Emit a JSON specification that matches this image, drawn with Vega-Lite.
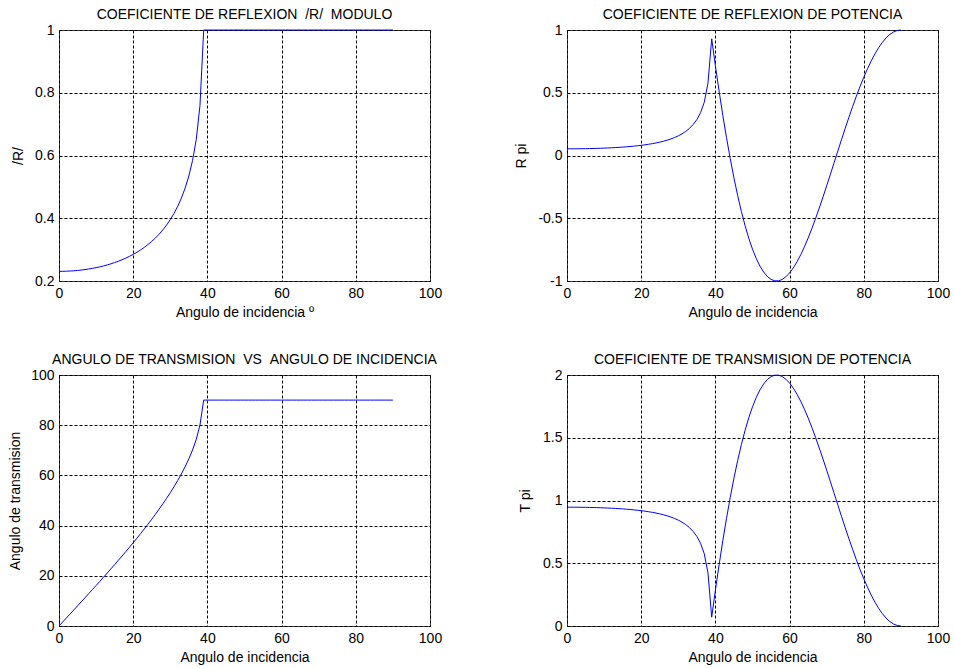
{
  "$schema": "https://vega.github.io/schema/vega-lite/v6.json",
  "background": "white",
  "padding": {"left": 7, "top": 7, "right": 0, "bottom": 0},
  "data": {"values": [
    {"a":0,"R":0.2308,"Rp":0.0533,"Tt":0,"Tp":0.9467},
    {"a":1,"R":0.2309,"Rp":0.0533,"Tt":1.60,"Tp":0.9467},
    {"a":2,"R":0.2312,"Rp":0.0535,"Tt":3.20,"Tp":0.9465},
    {"a":3,"R":0.2318,"Rp":0.0537,"Tt":4.80,"Tp":0.9463},
    {"a":4,"R":0.2326,"Rp":0.0541,"Tt":6.41,"Tp":0.9459},
    {"a":5,"R":0.2336,"Rp":0.0546,"Tt":8.02,"Tp":0.9454},
    {"a":6,"R":0.2349,"Rp":0.0552,"Tt":9.63,"Tp":0.9448},
    {"a":7,"R":0.2364,"Rp":0.0559,"Tt":11.24,"Tp":0.9441},
    {"a":8,"R":0.2382,"Rp":0.0567,"Tt":12.87,"Tp":0.9433},
    {"a":9,"R":0.2402,"Rp":0.0577,"Tt":14.49,"Tp":0.9423},
    {"a":10,"R":0.2425,"Rp":0.0588,"Tt":16.13,"Tp":0.9412},
    {"a":11,"R":0.2451,"Rp":0.0601,"Tt":17.78,"Tp":0.9399},
    {"a":12,"R":0.2480,"Rp":0.0615,"Tt":19.43,"Tp":0.9385},
    {"a":13,"R":0.2512,"Rp":0.0631,"Tt":21.10,"Tp":0.9369},
    {"a":14,"R":0.2548,"Rp":0.0649,"Tt":22.77,"Tp":0.9351},
    {"a":15,"R":0.2587,"Rp":0.0669,"Tt":24.46,"Tp":0.9331},
    {"a":16,"R":0.2630,"Rp":0.0692,"Tt":26.17,"Tp":0.9308},
    {"a":17,"R":0.2677,"Rp":0.0717,"Tt":27.89,"Tp":0.9283},
    {"a":18,"R":0.2729,"Rp":0.0745,"Tt":29.63,"Tp":0.9255},
    {"a":19,"R":0.2786,"Rp":0.0776,"Tt":31.39,"Tp":0.9224},
    {"a":20,"R":0.2848,"Rp":0.0811,"Tt":33.18,"Tp":0.9189},
    {"a":21,"R":0.2916,"Rp":0.0850,"Tt":34.99,"Tp":0.9150},
    {"a":22,"R":0.2991,"Rp":0.0894,"Tt":36.82,"Tp":0.9106},
    {"a":23,"R":0.3072,"Rp":0.0944,"Tt":38.69,"Tp":0.9056},
    {"a":24,"R":0.3163,"Rp":0.1000,"Tt":40.60,"Tp":0.9000},
    {"a":25,"R":0.3262,"Rp":0.1064,"Tt":42.55,"Tp":0.8936},
    {"a":26,"R":0.3372,"Rp":0.1137,"Tt":44.54,"Tp":0.8863},
    {"a":27,"R":0.3494,"Rp":0.1221,"Tt":46.58,"Tp":0.8779},
    {"a":28,"R":0.3631,"Rp":0.1318,"Tt":48.69,"Tp":0.8682},
    {"a":29,"R":0.3784,"Rp":0.1432,"Tt":50.87,"Tp":0.8568},
    {"a":30,"R":0.3957,"Rp":0.1565,"Tt":53.13,"Tp":0.8435},
    {"a":31,"R":0.4154,"Rp":0.1725,"Tt":55.49,"Tp":0.8275},
    {"a":32,"R":0.4381,"Rp":0.1919,"Tt":57.98,"Tp":0.8081},
    {"a":33,"R":0.4646,"Rp":0.2159,"Tt":60.62,"Tp":0.7841},
    {"a":34,"R":0.4962,"Rp":0.2462,"Tt":63.47,"Tp":0.7538},
    {"a":35,"R":0.5348,"Rp":0.2860,"Tt":66.60,"Tp":0.7140},
    {"a":36,"R":0.5840,"Rp":0.3411,"Tt":70.13,"Tp":0.6589},
    {"a":37,"R":0.6513,"Rp":0.4242,"Tt":74.35,"Tp":0.5758},
    {"a":38,"R":0.7596,"Rp":0.5770,"Tt":80.08,"Tp":0.4230},
    {"a":39,"R":1,"Rp":0.9295,"Tt":90,"Tp":0.0705},
    {"a":40,"R":1,"Rp":0.7149,"Tt":90,"Tp":0.2851},
    {"a":41,"R":1,"Rp":0.5118,"Tt":90,"Tp":0.4882},
    {"a":42,"R":1,"Rp":0.3205,"Tt":90,"Tp":0.6795},
    {"a":43,"R":1,"Rp":0.1416,"Tt":90,"Tp":0.8584},
    {"a":44,"R":1,"Rp":-0.0248,"Tt":90,"Tp":1.0248},
    {"a":45,"R":1,"Rp":-0.1782,"Tt":90,"Tp":1.1782},
    {"a":46,"R":1,"Rp":-0.3185,"Tt":90,"Tp":1.3185},
    {"a":47,"R":1,"Rp":-0.4455,"Tt":90,"Tp":1.4455},
    {"a":48,"R":1,"Rp":-0.5592,"Tt":90,"Tp":1.5592},
    {"a":49,"R":1,"Rp":-0.6595,"Tt":90,"Tp":1.6595},
    {"a":50,"R":1,"Rp":-0.7464,"Tt":90,"Tp":1.7464},
    {"a":51,"R":1,"Rp":-0.8202,"Tt":90,"Tp":1.8202},
    {"a":52,"R":1,"Rp":-0.8809,"Tt":90,"Tp":1.8809},
    {"a":53,"R":1,"Rp":-0.9283,"Tt":90,"Tp":1.9283},
    {"a":54,"R":1,"Rp":-0.9641,"Tt":90,"Tp":1.9641},
    {"a":55,"R":1,"Rp":-0.9873,"Tt":90,"Tp":1.9873},
    {"a":56,"R":1,"Rp":-0.9986,"Tt":90,"Tp":1.9986},
    {"a":57,"R":1,"Rp":-0.9986,"Tt":90,"Tp":1.9986},
    {"a":58,"R":1,"Rp":-0.9877,"Tt":90,"Tp":1.9877},
    {"a":59,"R":1,"Rp":-0.9665,"Tt":90,"Tp":1.9665},
    {"a":60,"R":1,"Rp":-0.9356,"Tt":90,"Tp":1.9356},
    {"a":61,"R":1,"Rp":-0.8955,"Tt":90,"Tp":1.8955},
    {"a":62,"R":1,"Rp":-0.8470,"Tt":90,"Tp":1.8470},
    {"a":63,"R":1,"Rp":-0.7906,"Tt":90,"Tp":1.7906},
    {"a":64,"R":1,"Rp":-0.7272,"Tt":90,"Tp":1.7272},
    {"a":65,"R":1,"Rp":-0.6575,"Tt":90,"Tp":1.6575},
    {"a":66,"R":1,"Rp":-0.5822,"Tt":90,"Tp":1.5822},
    {"a":67,"R":1,"Rp":-0.5021,"Tt":90,"Tp":1.5021},
    {"a":68,"R":1,"Rp":-0.4180,"Tt":90,"Tp":1.4180},
    {"a":69,"R":1,"Rp":-0.3307,"Tt":90,"Tp":1.3307},
    {"a":70,"R":1,"Rp":-0.2409,"Tt":90,"Tp":1.2409},
    {"a":71,"R":1,"Rp":-0.1495,"Tt":90,"Tp":1.1495},
    {"a":72,"R":1,"Rp":-0.0572,"Tt":90,"Tp":1.0572},
    {"a":73,"R":1,"Rp":0.0352,"Tt":90,"Tp":0.9648},
    {"a":74,"R":1,"Rp":0.1269,"Tt":90,"Tp":0.8731},
    {"a":75,"R":1,"Rp":0.2173,"Tt":90,"Tp":0.7827},
    {"a":76,"R":1,"Rp":0.3055,"Tt":90,"Tp":0.6945},
    {"a":77,"R":1,"Rp":0.3908,"Tt":90,"Tp":0.6092},
    {"a":78,"R":1,"Rp":0.4728,"Tt":90,"Tp":0.5272},
    {"a":79,"R":1,"Rp":0.5506,"Tt":90,"Tp":0.4494},
    {"a":80,"R":1,"Rp":0.6237,"Tt":90,"Tp":0.3763},
    {"a":81,"R":1,"Rp":0.6916,"Tt":90,"Tp":0.3084},
    {"a":82,"R":1,"Rp":0.7538,"Tt":90,"Tp":0.2462},
    {"a":83,"R":1,"Rp":0.8098,"Tt":90,"Tp":0.1902},
    {"a":84,"R":1,"Rp":0.8591,"Tt":90,"Tp":0.1409},
    {"a":85,"R":1,"Rp":0.9015,"Tt":90,"Tp":0.0985},
    {"a":86,"R":1,"Rp":0.9366,"Tt":90,"Tp":0.0634},
    {"a":87,"R":1,"Rp":0.9642,"Tt":90,"Tp":0.0358},
    {"a":88,"R":1,"Rp":0.9840,"Tt":90,"Tp":0.0160},
    {"a":89,"R":1,"Rp":0.9960,"Tt":90,"Tp":0.0040},
    {"a":90,"R":1,"Rp":1.0,"Tt":90,"Tp":0.0}
  ]},
  "columns": 2,
  "bounds": "flush",
  "spacing": {"row": 94, "column": 137},
  "concat": [
    {
      "width": 371, "height": 251,
      "title": {"text": "COEFICIENTE DE REFLEXION \u00a0/R/ \u00a0MODULO"},
      "mark": {"type": "line"},
      "encoding": {
        "x": {"field": "a", "type": "quantitative", "scale": {"domain": [0, 100], "nice": false},
              "axis": {"title": "Angulo de incidencia º", "values": [0, 20, 40, 60, 80, 100]}},
        "y": {"field": "R", "type": "quantitative", "scale": {"domain": [0.2, 1], "nice": false, "zero": false},
              "axis": {"title": "/R/", "values": [0.2, 0.4, 0.6, 0.8, 1], "titleX": -37, "titleY": 125.5}}
      }
    },
    {
      "width": 371, "height": 251,
      "title": {"text": "COEFICIENTE DE REFLEXION DE POTENCIA"},
      "mark": {"type": "line"},
      "encoding": {
        "x": {"field": "a", "type": "quantitative", "scale": {"domain": [0, 100], "nice": false},
              "axis": {"title": "Angulo de incidencia", "values": [0, 20, 40, 60, 80, 100]}},
        "y": {"field": "Rp", "type": "quantitative", "scale": {"domain": [-1, 1], "nice": false, "zero": false},
              "axis": {"title": "R pi", "values": [-1, -0.5, 0, 0.5, 1], "titleX": -42, "titleY": 125.5}}
      }
    },
    {
      "width": 371, "height": 251,
      "title": {"text": "ANGULO DE TRANSMISION \u00a0VS \u00a0ANGULO DE INCIDENCIA"},
      "mark": {"type": "line"},
      "encoding": {
        "x": {"field": "a", "type": "quantitative", "scale": {"domain": [0, 100], "nice": false},
              "axis": {"title": "Angulo de incidencia", "values": [0, 20, 40, 60, 80, 100]}},
        "y": {"field": "Tt", "type": "quantitative", "scale": {"domain": [0, 100], "nice": false},
              "axis": {"title": "Angulo de transmision", "values": [0, 20, 40, 60, 80, 100], "titleX": -40, "titleY": 125.5}}
      }
    },
    {
      "width": 371, "height": 251,
      "title": {"text": "COEFICIENTE DE TRANSMISION DE POTENCIA"},
      "mark": {"type": "line"},
      "encoding": {
        "x": {"field": "a", "type": "quantitative", "scale": {"domain": [0, 100], "nice": false},
              "axis": {"title": "Angulo de incidencia", "values": [0, 20, 40, 60, 80, 100]}},
        "y": {"field": "Tp", "type": "quantitative", "scale": {"domain": [0, 2], "nice": false},
              "axis": {"title": "T pi", "values": [0, 0.5, 1, 1.5, 2], "titleX": -38, "titleY": 125.5}}
      }
    }
  ],
  "config": {
    "font": "Liberation Sans",
    "view": {"stroke": "#404040", "strokeWidth": 1},
    "line": {"color": "#0000ff", "strokeWidth": 1},
    "axis": {
      "domain": false, "ticks": false, "tickSize": 0,
      "grid": true, "gridColor": "#000000", "gridDash": [3, 2], "gridOpacity": 1, "gridWidth": 1,
      "labelFont": "Liberation Sans", "labelFontSize": 14, "labelColor": "#000000",
      "labelFlush": false, "labelOverlap": false, "labelPadding": 5,
      "labelExpr": "'' + datum.value",
      "titleFont": "Liberation Sans", "titleFontSize": 14, "titleFontWeight": "normal", "titleColor": "#000000",
      "titleBaseline": "alphabetic"
    },
    "axisX": {"titleY": 35},
    "title": {
      "font": "Liberation Sans", "fontSize": 14, "fontWeight": "normal", "color": "#000000",
      "anchor": "middle", "frame": "group", "baseline": "alphabetic", "offset": 1
    }
  }
}
